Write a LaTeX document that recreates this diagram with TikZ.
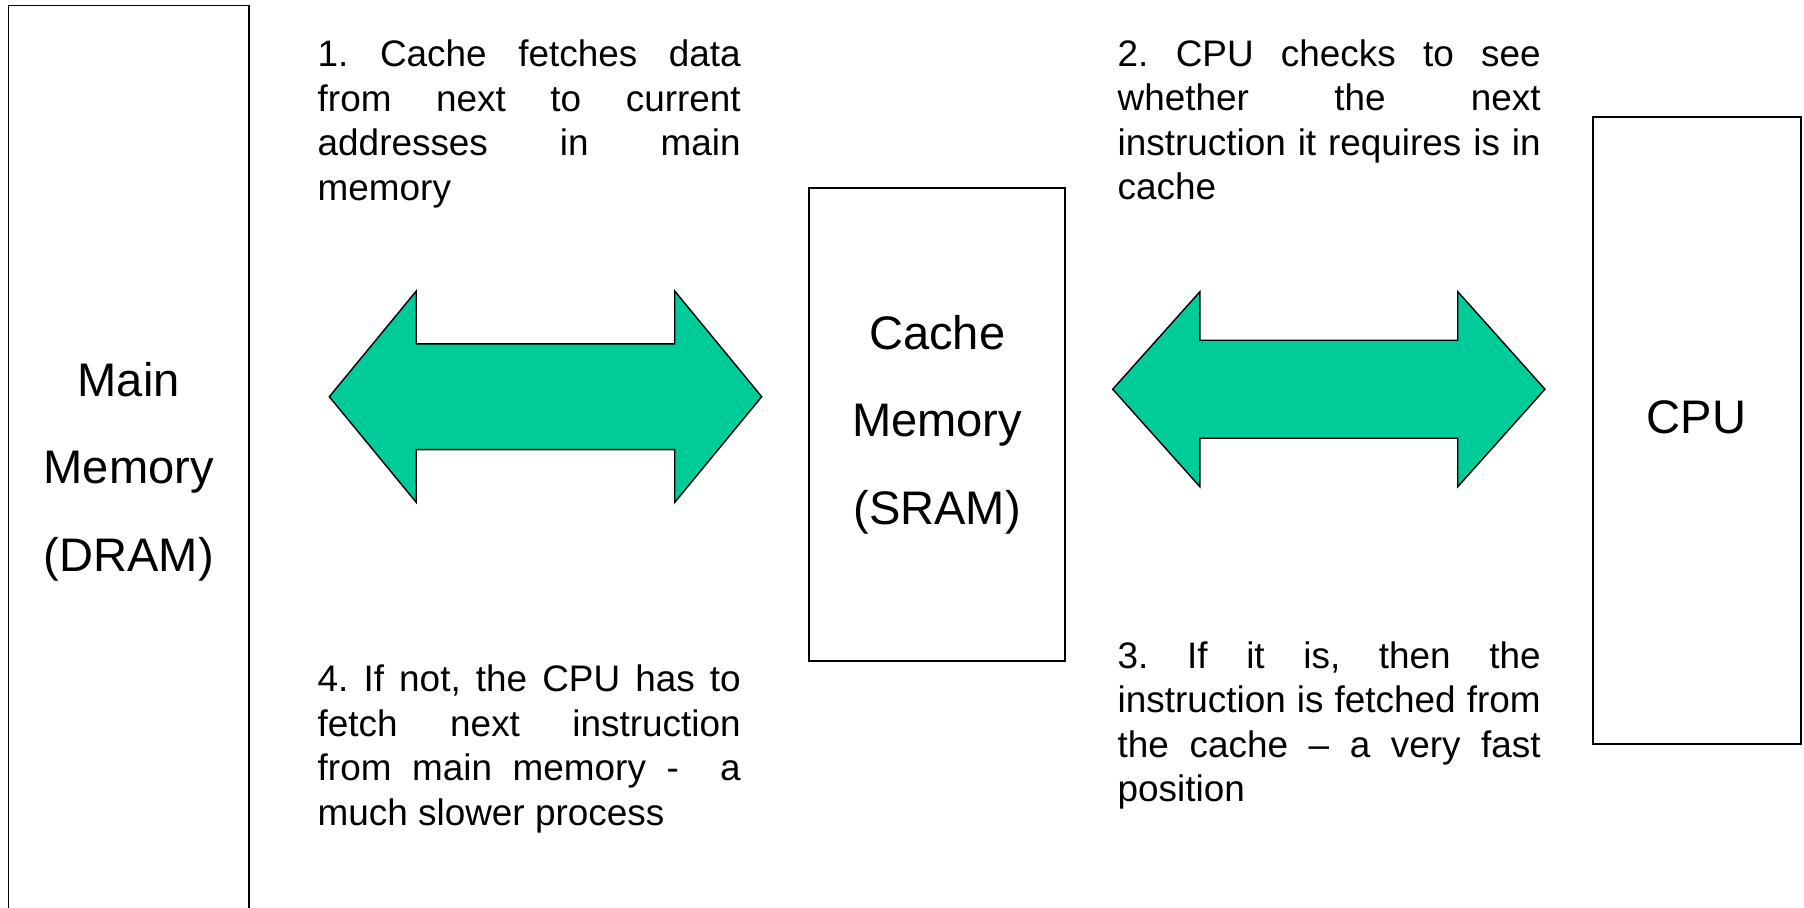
\documentclass[tikz,border=0pt]{standalone}
\usepackage{fontspec}
\setmainfont{Liberation Sans}
\usepackage{tikz}
\usetikzlibrary{shapes,arrows,calc}
\definecolor{arrowgreen}{RGB}{0,204,153}

\tikzset{
  unit/.style={draw, rectangle, line width=0.5pt, inner sep=0pt, align=center,
    font=\fontsize{13.4}{24.9}\selectfont},
  note/.style={inner sep=0pt, text width=42.3mm, align=justify, anchor=base west,
    font=\fontsize{10.5}{12.7}\selectfont\frenchspacing},
  transfer/.style={double arrow, draw, fill=arrowgreen, line width=0.4pt,
    inner sep=0pt, text depth=0pt, minimum width=0pt}
}

\begin{document}
\begin{tikzpicture}[x=0.1mm, y=-0.1mm]
\useasboundingbox (0,0) rectangle (1804,907);

% memory blocks
\node[unit, minimum width=24.05mm, minimum height=93.2mm] (dram) at (128.75,471.5) {Main\\Memory\\(DRAM)};
\node[unit, minimum width=25.57mm, minimum height=47.33mm] (sram) at (937.2,424.4) {Cache\\Memory\\(SRAM)};
\node[unit, minimum width=20.8mm, minimum height=62.67mm, text depth=2.74mm] (cpu) at (1696.7,430.7) {CPU};

% transfers
\node[transfer, minimum height=43.24mm, text height=10.43mm, double arrow head extend=5.285mm,
  double arrow tip angle=101.1] (dram-sram) at (545.5,396.7) {};
\node[transfer, minimum height=43.23mm, text height=9.66mm, double arrow head extend=4.855mm,
  double arrow tip angle=96.4] (sram-cpu) at (1328.85,389.2) {};

% steps
\node[note] (step1) at (317,66.7) {1. Cache fetches data\linebreak from next to current\linebreak addresses in main\linebreak memory};
\node[note] (step2) at (1117,66) {2. CPU checks to see\linebreak whether the next\linebreak instruction it requires is in\linebreak cache};
\node[note] (step3) at (1117,668) {3. If it is, then the\linebreak instruction is fetched from\linebreak the cache \textendash{} a very fast\linebreak position};
\node[note] (step4) at (317,691.7) {4. If not, the CPU has to\linebreak fetch next instruction\linebreak from main memory -\ \ a\linebreak much slower process};

\end{tikzpicture}
\end{document}
